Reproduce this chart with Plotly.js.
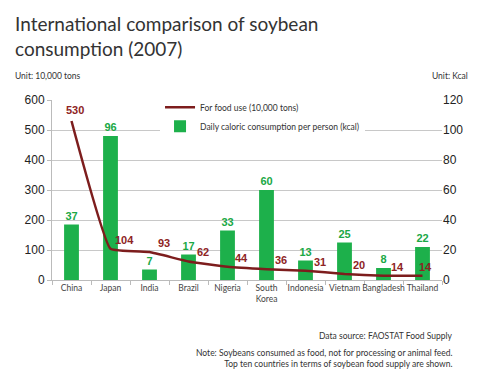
<!DOCTYPE html>
<html><head><meta charset="utf-8">
<script src="https://cdn.plot.ly/plotly-3.0.1.min.js"></script>
<style>body{margin:0;background:#fff}#c{width:484px;height:379px}</style>
</head><body><div id="c"></div>
<script>
const categories = ["China","Japan","India","Brazil","Nigeria","South<br>Korea","Indonesia","Vietnam","Bangladesh","Thailand"];
const foodUse = [530,104,93,62,44,36,31,20,14,14];
const kcal = [37,96,7,17,33,60,13,25,8,22];
const leftTicks = [0,100,200,300,400,500,600];
const rightTicks = [0,20,40,60,80,100,120];

const green = "#1db04b", red = "#7d1d1d";

const traces = [
  {type:"scatter", mode:"lines", name:"For food use (10,000 tons)", x:categories, y:foodUse,
   yaxis:"y2", line:{color:red,width:2.5,shape:"spline",smoothing:0.3}},
  {type:"bar", name:"Daily caloric consumption per person (kcal)", x:categories, y:kcal, yaxis:"y",
   marker:{color:green}, width:0.38, text:kcal.map(String), textposition:"outside",
   textfont:{family:"Liberation Sans, Arial", size:11, color:"#1aa845", weight:"bold"}, cliponaxis:false}
];

const lineLabels = foodUse.map((v,i)=>({
  text:String(v), x:categories[i], y:v, xref:"x", yref:"y2", showarrow:false,
  xshift: (i===0||i===categories.length-1) ? 3 : 14, yshift: i===0 ? 11 : 9,
  font:{family:"Liberation Sans, Arial", size:11, color:"#8e2424", weight:"bold"}
}));

const small = {family:"Lato, Noto Sans", size:8.5, color:"#333"};
const layout = {
  width:484, height:379, margin:{l:52,r:42,t:100,b:99},
  paper_bgcolor:"#fff", plot_bgcolor:"#fff", showlegend:true,
  font:{family:"Lato, Noto Sans, sans-serif", color:"#333"},
  xaxis:{type:"category", showline:true, linecolor:"#bbb", ticks:"outside", tickson:"boundaries", ticklen:4,
    tickcolor:"#bbb", tickangle:0, tickfont:{family:"Lato, Noto Sans", size:8.5, color:"#444"}, showgrid:false},
  yaxis:{range:[0,120], tickvals:rightTicks, side:"right", showline:false, ticks:"",
    gridcolor:"#c8c8c8", gridwidth:1, zeroline:false, tickfont:{family:"Liberation Sans, Arial", size:12, color:"#222"}},
  yaxis2:{range:[0,600], tickvals:leftTicks, overlaying:"y", side:"left", showgrid:false, zeroline:false,
    showline:true, linecolor:"#bbb", ticks:"outside", ticklen:4, tickcolor:"#bbb",
    tickfont:{family:"Liberation Sans, Arial", size:12, color:"#222"}},
  legend:{x:0.277, y:1.04, xanchor:"left", yanchor:"top", bgcolor:"#fff", traceorder:"normal",
    font:small, tracegroupgap:0, itemwidth:30},
  annotations:[
    {text:"International comparison of soybean<br>consumption (2007)", xref:"paper", yref:"paper", x:-39/390, y:1+90/180,
      xanchor:"left", yanchor:"top", align:"left", showarrow:false, font:{family:"Lato", size:19, color:"#333"}},
    {text:"Unit: 10,000 tons", xref:"paper", yref:"paper", x:-39/390, y:1+24/180, xanchor:"left", yanchor:"middle", showarrow:false, font:small},
    {text:"Unit: Kcal", xref:"paper", yref:"paper", x:(470-52)/390, y:1+24/180, xanchor:"right", yanchor:"middle", showarrow:false, font:small},
    {text:"Data source: FAOSTAT Food Supply", xref:"paper", yref:"paper", x:(455-52)/390, y:-(336-280)/180, xanchor:"right", yanchor:"middle", showarrow:false, font:small},
    {text:"Note: Soybeans consumed as food, not for processing or animal feed.<br>Top ten countries in terms of soybean food supply are shown.", xref:"paper", yref:"paper", x:(455-52)/390, y:-(358-280)/180, xanchor:"right", yanchor:"middle", align:"right", showarrow:false, font:small}
  ].concat(lineLabels)
};
Plotly.newPlot("c", traces, layout, {displayModeBar:false, staticPlot:true});
</script></body></html>
